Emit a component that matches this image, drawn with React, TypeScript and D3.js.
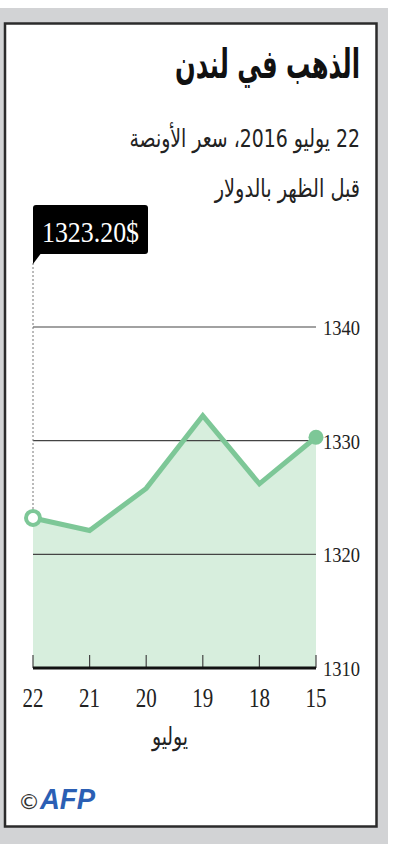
import React from "react";
import * as d3 from "d3";

const days = ["22", "21", "20", "19", "18", "15"];
const prices = [1323.2, 1322.1, 1325.8, 1332.2, 1326.2, 1330.3];
const yTicks = [1310, 1320, 1330, 1340];
const title = "الذهب في لندن";
const subtitle1 = "22 يوليو 2016، سعر الأونصة";
const subtitle2 = "قبل الظهر بالدولار";
const monthLabel = "يوليو";
const calloutText = "1323.20$";

export default function App() {
  const x = d3.scalePoint<string>().domain(days).range([33, 316]);
  const y = d3.scaleLinear().domain([1310, 1340]).range([668, 327]);
  const pts = days.map((d, i) => ({ d, v: prices[i] }));
  const line = d3.line<any>().x((p) => x(p.d)!).y((p) => y(p.v));
  const area = d3.area<any>().x((p) => x(p.d)!).y0(y(1310)).y1((p) => y(p.v));
  const first = pts[0];
  const last = pts[pts.length - 1];
  const arabic = "'DejaVu Sans Condensed', 'DejaVu Sans', sans-serif";
  const serif = "'Liberation Serif', 'DejaVu Serif', serif";
  return (
    <div style={{ position: "absolute", left: 0, top: 0, width: 400, height: 844, background: "#fff" }}>
      <svg width={400} height={844}>
        <rect x={0} y={8} width={388} height={836} fill="#d2d3d5" />
        <rect x={5} y={23.5} width={371.5} height={803} fill="#fff" stroke="#2b2b2b" strokeWidth={2.5} />
        <g transform="translate(360,78) scale(0.87,1.3)">
          <text x={0} y={0} textAnchor="start" direction="rtl" fontFamily={arabic} fontWeight="bold" fontSize={31} fill="#111">{title}</text>
        </g>
        <g transform="translate(360,147) scale(1,1.22)">
          <text x={0} y={0} textAnchor="start" direction="rtl" fontFamily={arabic} fontSize={21} fill="#222">{subtitle1}</text>
        </g>
        <g transform="translate(360,197) scale(1.02,1.22)">
          <text x={0} y={0} textAnchor="start" direction="rtl" fontFamily={arabic} fontSize={21} fill="#222">{subtitle2}</text>
        </g>

        <path d={area(pts) || ""} fill="#d7eedd" />
        {yTicks.filter((t) => t !== 1310).map((t) => (
          <line key={t} x1={x(days[0])} x2={x(days[days.length - 1])} y1={y(t)} y2={y(t)} stroke="#444" strokeWidth={1.2} />
        ))}
        {yTicks.map((t) => (
          <text key={"l" + t} x={323} y={y(t) + 8} fontFamily={serif} fontSize={22} fill="#222" textLength={37} lengthAdjust="spacingAndGlyphs">{t}</text>
        ))}
        <line x1={x(first.d)} x2={x(first.d)} y1={263} y2={y(first.v)} stroke="#777" strokeWidth={1} strokeDasharray="2,2" />
        <path d={line(pts) || ""} fill="none" stroke="#7dc797" strokeWidth={5} strokeLinejoin="miter" />
        <circle cx={x(first.d)} cy={y(first.v)} r={7} fill="#fff" stroke="#7dc797" strokeWidth={4} />
        <circle cx={x(last.d)} cy={y(last.v)} r={7.5} fill="#7dc797" />

        {days.map((d) => (
          <line key={"t" + d} x1={x(d)} x2={x(d)} y1={y(1310)} y2={y(1310) - 13} stroke="#444" strokeWidth={1.2} />
        ))}
        <line x1={x(days[0])} x2={x(days[days.length - 1])} y1={y(1310)} y2={y(1310)} stroke="#111" strokeWidth={3} />
        {days.map((d) => (
          <text key={"x" + d} x={x(d)} y={707} textAnchor="middle" fontFamily={serif} fontSize={27} fill="#222" textLength={21} lengthAdjust="spacingAndGlyphs">{d}</text>
        ))}
        <g transform="translate(170,745) scale(1,1.22)">
          <text x={0} y={0} textAnchor="middle" direction="rtl" fontFamily={arabic} fontSize={21} fill="#222">{monthLabel}</text>
        </g>

        <path d={`M${x(first.d)},264 L${x(first.d)},248 L${x(first.d) + 12},248 Z`} fill="#000" />
        <rect x={33} y={205} width={115} height={49} rx={3} fill="#000" />
        <text x={90.5} y={242} textAnchor="middle" fontFamily={serif} fontSize={30} fill="#fff" textLength={97} lengthAdjust="spacingAndGlyphs">{calloutText}</text>

        <text x={18} y={809} fontFamily="'DejaVu Sans', sans-serif" fontSize={22} fill="#333">©</text>
        <text x={40} y={809} fontFamily="'Liberation Sans', sans-serif" fontWeight="bold" fontStyle="italic" fontSize={30} fill="#2b5fb4" textLength={55} lengthAdjust="spacingAndGlyphs">AFP</text>
      </svg>
    </div>
  );
}
